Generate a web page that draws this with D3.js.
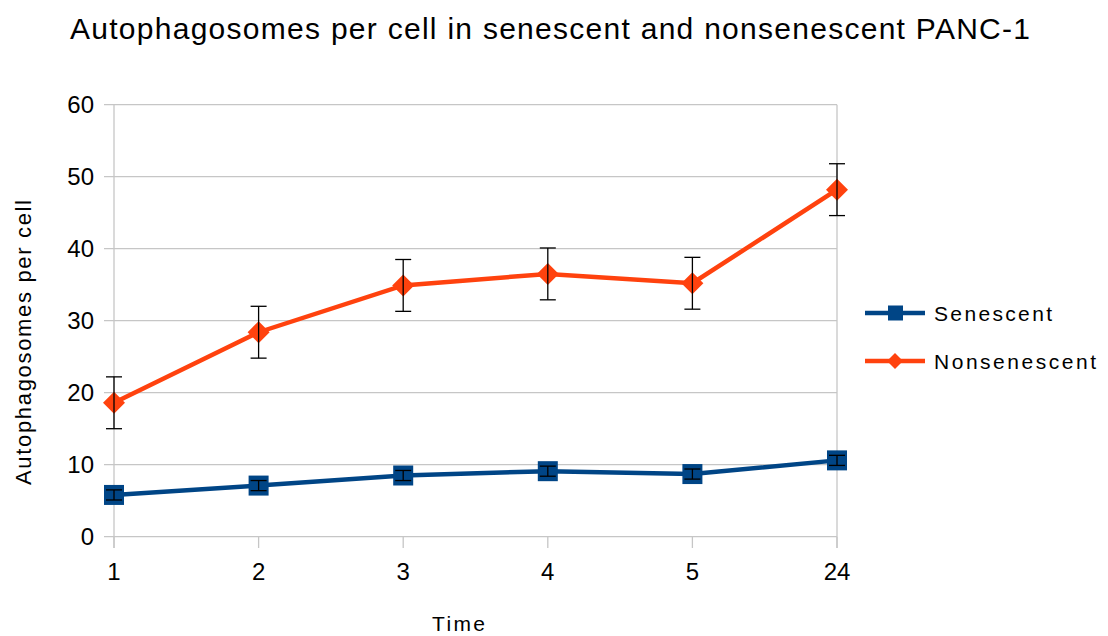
<!DOCTYPE html>
<html><head><meta charset="utf-8">
<script src="https://cdn.jsdelivr.net/npm/d3@7"></script>
<style>body{margin:0;background:#fff}svg{display:block;font-family:"Liberation Sans",Arial,sans-serif}</style>
</head><body>
<svg id="c" width="1108" height="636"></svg>
<script>
const categories = ["1","2","3","4","5","24"];
const senescent = [5.8, 7.1, 8.5, 9.1, 8.7, 10.6];
const senescentErr = [0.7, 0.7, 0.7, 0.7, 0.7, 0.7];
const nonsenescent = [18.6, 28.4, 34.9, 36.5, 35.2, 48.2];
const nonsenescentErr = [3.6, 3.6, 3.6, 3.6, 3.6, 3.6];
const yTicks = [0,10,20,30,40,50,60];

const svg = d3.select("#c");
const x = d3.scalePoint().domain(categories).range([114, 837]);
const y = d3.scaleLinear().domain([0, 60]).range([536.7, 104.7]);
const grid = "#c6c6c6";

// horizontal grid (with outward ticks)
svg.append("g").selectAll("line").data(yTicks).join("line")
  .attr("x1", 104).attr("x2", 837).attr("y1", d => y(d)).attr("y2", d => y(d))
  .attr("stroke", grid).attr("stroke-width", 1.3);
// left axis and right border
[x(categories[0]), x(categories[categories.length - 1])].forEach(px =>
  svg.append("line").attr("x1", px).attr("x2", px).attr("y1", y(60)).attr("y2", 548)
    .attr("stroke", grid).attr("stroke-width", 1.3));
// x tick marks
svg.append("g").selectAll("line").data(categories).join("line")
  .attr("x1", d => x(d)).attr("x2", d => x(d)).attr("y1", y(0)).attr("y2", 548)
  .attr("stroke", grid).attr("stroke-width", 1.3);

// tick labels
svg.append("g").selectAll("text").data(yTicks).join("text")
  .attr("x", 94).attr("y", d => y(d)).attr("dy", "0.36em").attr("text-anchor", "end")
  .attr("font-size", 24).attr("fill", "#000").text(d => d);
svg.append("g").selectAll("text").data(categories).join("text")
  .attr("x", d => x(d)).attr("y", 580).attr("text-anchor", "middle")
  .attr("font-size", 24).attr("fill", "#000").text(d => d);

// titles
svg.append("text").attr("x", 70).attr("y", 38.5)
  .attr("font-size", 30).attr("textLength", 960).attr("lengthAdjust", "spacing")
  .text("Autophagosomes per cell in senescent and nonsenescent PANC-1");
svg.append("text").attr("transform", "translate(31,485) rotate(-90)")
  .attr("font-size", 22).attr("textLength", 285).attr("lengthAdjust", "spacing")
  .text("Autophagosomes per cell");
svg.append("text").attr("x", 432).attr("y", 631)
  .attr("font-size", 21).attr("textLength", 53).attr("lengthAdjust", "spacing").text("Time");

const series = [
  {name: "Senescent", vals: senescent, err: senescentErr, color: "#004586", shape: "square", len: 118},
  {name: "Nonsenescent", vals: nonsenescent, err: nonsenescentErr, color: "#ff420e", shape: "diamond", len: 162}
];

function marker(g, shape, color, cx, cy) {
  if (shape === "square") {
    g.append("rect").attr("x", cx - 10).attr("y", cy - 10).attr("width", 20).attr("height", 20).attr("fill", color);
  } else {
    const s = 11;
    g.append("path").attr("d", `M${cx},${cy - s}L${cx + s},${cy}L${cx},${cy + s}L${cx - s},${cy}Z`).attr("fill", color);
  }
}

series.forEach(s => {
  const data = categories.map((c, i) => ({c, v: s.vals[i], e: s.err[i]}));
  svg.append("path").datum(data)
    .attr("d", d3.line().x(d => x(d.c)).y(d => y(d.v)))
    .attr("fill", "none").attr("stroke", s.color).attr("stroke-width", 4.5);
  const g = svg.append("g");
  data.forEach(d => marker(g, s.shape, s.color, x(d.c), y(d.v)));
  const eg = svg.append("g").attr("stroke", "#000").attr("stroke-width", 1.3);
  data.forEach(d => {
    const cx = x(d.c);
    eg.append("line").attr("x1", cx).attr("x2", cx).attr("y1", y(d.v + d.e)).attr("y2", y(d.v - d.e));
    [d.v + d.e, d.v - d.e].forEach(v =>
      eg.append("line").attr("x1", cx - 8).attr("x2", cx + 8).attr("y1", y(v)).attr("y2", y(v)));
  });
});

// legend
series.forEach((s, i) => {
  const ly = 313 + i * 48;
  svg.append("line").attr("x1", 865).attr("x2", 925).attr("y1", ly).attr("y2", ly)
    .attr("stroke", s.color).attr("stroke-width", 4.5);
  const g = svg.append("g");
  if (s.shape === "square") g.append("rect").attr("x", 888).attr("y", ly - 7.5).attr("width", 15).attr("height", 15).attr("fill", s.color);
  else g.append("path").attr("d", `M895,${ly - 8}L903,${ly}L895,${ly + 8}L887,${ly}Z`).attr("fill", s.color);
  svg.append("text").attr("x", 934).attr("y", ly).attr("dy", "0.36em")
    .attr("font-size", 21).attr("textLength", s.len).attr("lengthAdjust", "spacing").text(s.name);
});
</script>
</body></html>
